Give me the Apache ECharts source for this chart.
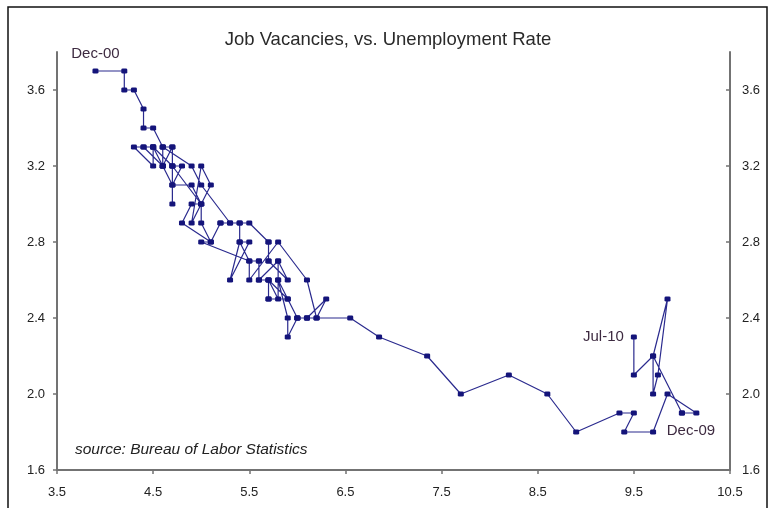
<!DOCTYPE html>
<html>
<head>
<meta charset="utf-8">
<script src="https://cdn.jsdelivr.net/npm/echarts@6/dist/echarts.min.js"></script>
<style>
html,body{margin:0;padding:0;background:#fff;}
#chart{width:769px;height:508px;}
</style>
</head>
<body>
<div id="chart"></div>
<script>
// Unemployment rate (%), monthly Dec-00 .. Jul-10
const unemployment = [
  3.9,
  4.2,4.2,4.3,4.4,4.4,4.5,4.6,4.9,5.0,5.3,5.5,5.7,
  5.7,5.7,5.7,5.9,5.8,5.8,5.8,5.7,5.7,5.7,5.9,6.0,
  5.8,5.9,5.9,6.0,6.1,6.3,6.2,6.1,6.1,6.0,5.9,5.7,
  5.7,5.6,5.8,5.6,5.6,5.6,5.5,5.4,5.3,5.5,5.4,5.4,
  5.3,5.4,5.2,5.2,5.1,5.0,5.0,4.9,5.0,5.1,5.0,4.9,
  4.7,4.8,4.7,4.7,4.6,4.6,4.7,4.7,4.5,4.4,4.5,4.4,
  4.6,4.5,4.3,4.5,4.5,4.6,4.6,4.6,4.7,4.7,4.7,5.0,
  4.9,4.8,5.1,5.0,5.5,5.5,5.8,6.1,6.2,6.55,6.85,7.35,
  7.7,8.2,8.6,8.9,9.35,9.5,9.4,9.7,9.85,10.15,10.0,10.0,
  9.7,9.7,9.75,9.85,9.7,9.5,9.5
];
// Job openings (vacancy) rate (%), same months
const vacancies = [
  3.7,
  3.7,3.6,3.6,3.5,3.4,3.4,3.3,3.2,3.1,2.9,2.9,2.8,
  2.7,2.8,2.7,2.6,2.7,2.6,2.5,2.6,2.5,2.6,2.5,2.4,
  2.6,2.4,2.3,2.4,2.4,2.5,2.4,2.4,2.4,2.4,2.5,2.5,
  2.6,2.6,2.7,2.6,2.7,2.7,2.7,2.8,2.6,2.8,2.8,2.9,
  2.9,2.9,2.9,2.9,2.8,2.9,3.0,2.9,3.2,3.1,3.0,3.1,
  3.1,3.2,3.2,3.3,3.3,3.2,3.3,3.2,3.3,3.3,3.3,3.3,
  3.2,3.3,3.3,3.2,3.3,3.2,3.3,3.2,3.1,3.0,3.2,3.0,
  3.0,2.9,2.8,2.8,2.7,2.6,2.8,2.6,2.4,2.4,2.3,2.2,
  2.0,2.1,2.0,1.8,1.9,1.9,1.8,1.8,2.0,1.9,1.9,1.9,
  2.2,2.0,2.1,2.5,2.2,2.1,2.3
];
const monthNames = ['Jan','Feb','Mar','Apr','May','Jun','Jul','Aug','Sep','Oct','Nov','Dec'];
const startYear = 2000, startMonth = 11; // Dec-00
const annotated = ['Dec-00', 'Dec-09', 'Jul-10'];
const xTicks = [3.5, 4.5, 5.5, 6.5, 7.5, 8.5, 9.5, 10.5];
const yTicks = [1.6, 2.0, 2.4, 2.8, 3.2, 3.6];
const titleText = 'Job Vacancies, vs. Unemployment Rate';
const sourceText = 'source: Bureau of Labor Statistics';

const monthLabels = unemployment.map((_, i) => {
  const m = (startMonth + i) % 12;
  const y = startYear + Math.floor((startMonth + i) / 12);
  return monthNames[m] + '-' + String(y % 100).padStart(2, '0');
});

const labelPos = {'Dec-00': 'top', 'Dec-09': 'bottom', 'Jul-10': 'left'};
const labelOffset = {'Dec-00': [0, -2], 'Dec-09': [9, 3], 'Jul-10': [-2, 0]};

const font = 'Liberation Sans, Arial, sans-serif';

const seriesData = unemployment.map((u, i) => {
  const name = monthLabels[i];
  const item = {value: [u, vacancies[i]], name: name};
  if (annotated.includes(name)) {
    item.label = {
      show: true,
      formatter: name,
      position: labelPos[name],
      offset: labelOffset[name],
      color: '#3d2a40',
      fontSize: 15,
      fontFamily: font
    };
  }
  return item;
});

const chart = echarts.init(document.getElementById('chart'), null, {renderer: 'canvas'});
const axisLineStyle = {color: '#737373', width: 2};

chart.setOption({
  animation: false,
  backgroundColor: '#fff',
  title: {
    text: titleText,
    left: 383,
    top: 25,
    textAlign: 'center',
    textStyle: {fontFamily: font, fontSize: 18.5, fontWeight: 'normal', color: '#2a2a2a'}
  },
  grid: {left: 57, right: 39, top: 52, bottom: 38, containLabel: false},
  xAxis: {
    type: 'value',
    min: 3.5, max: 10.5, interval: 1,
    axisLine: {show: true, onZero: false, lineStyle: axisLineStyle},
    axisTick: {show: true, length: 4, lineStyle: {color: '#737373', width: 1.5}},
    axisLabel: {color: '#222', fontFamily: font, fontSize: 13, margin: 16,
      customValues: xTicks, formatter: v => v.toFixed(1)},
    splitLine: {show: false}
  },
  yAxis: [{
    type: 'value',
    position: 'left',
    min: 1.6, max: 3.8, interval: 0.4,
    axisLine: {show: true, onZero: false, lineStyle: axisLineStyle},
    axisTick: {show: true, length: 4, customValues: yTicks, lineStyle: {color: '#737373', width: 1.5}},
    axisLabel: {color: '#222', fontFamily: font, fontSize: 13, margin: 12,
      customValues: yTicks, formatter: v => v.toFixed(1)},
    splitLine: {show: false}
  }, {
    type: 'value',
    position: 'right',
    min: 1.6, max: 3.8, interval: 0.4,
    axisLine: {show: true, onZero: false, lineStyle: axisLineStyle},
    axisTick: {show: true, inside: true, length: 4, customValues: yTicks, lineStyle: {color: '#737373', width: 1.5}},
    axisLabel: {color: '#222', fontFamily: font, fontSize: 13, margin: 12,
      customValues: yTicks, formatter: v => v.toFixed(1)},
    splitLine: {show: false}
  }],
  series: [{
    type: 'line',
    yAxisIndex: 0,
    data: seriesData,
    symbol: 'roundRect',
    symbolSize: [6, 5],
    showAllSymbol: true,
    itemStyle: {color: '#14147a'},
    lineStyle: {color: '#2a2a8e', width: 1.2},
    clip: false
  }],
  graphic: [{
    type: 'rect',
    shape: {x: 8, y: 7, width: 759, height: 530},
    style: {fill: null, stroke: '#111', lineWidth: 1.5},
    silent: true
  }, {
    type: 'text',
    left: 75,
    top: 442,
    style: {text: sourceText, fill: '#222', font: 'italic 15.5px Liberation Sans, Arial, sans-serif'}
  }]
});
</script>
</body>
</html>
